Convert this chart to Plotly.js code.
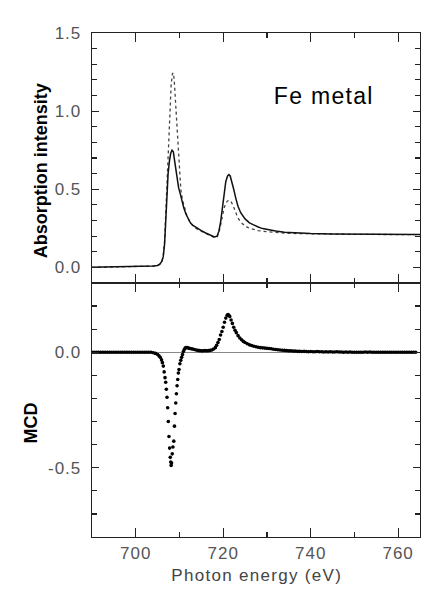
<!DOCTYPE html>
<html>
<head>
<meta charset="utf-8">
<script src="https://cdn.plot.ly/plotly-3.0.1.min.js"></script>
<style>
html,body{margin:0;padding:0;background:#fff;}
#chart{width:436px;height:597px;}
.xtick text, .ytick text, .x2tick text, .y2tick text {letter-spacing:1px;}
</style>
</head>
<body>
<div id="chart"></div>
<script>
// ---------- data ----------
// Top panel: absorption (solid = average, dotted = one helicity)
var absEnergy = [690,695,700,703,704,705,705.5,706,706.3,706.6,706.9,707.1,707.4,707.7,708.0,708.3,708.6,708.9,709.2,709.5,709.8,710.1,710.5,711.0,711.5,712.0,712.5,713.0,714,715,716,717,718,718.6,719.0,719.4,719.8,720.2,720.6,721.0,721.3,721.6,722.0,722.4,722.9,723.4,724,725,726,727,728,729,730,732,734,736,738,740,745,750,753,754,755,757,760,765];
var absSolid  = [0.000,0.002,0.004,0.006,0.008,0.012,0.02,0.04,0.07,0.15,0.32,0.48,0.60,0.68,0.73,0.75,0.74,0.68,0.61,0.55,0.51,0.48,0.43,0.38,0.34,0.31,0.285,0.27,0.25,0.235,0.22,0.205,0.195,0.20,0.23,0.29,0.38,0.48,0.55,0.585,0.594,0.585,0.55,0.50,0.44,0.39,0.35,0.31,0.285,0.27,0.258,0.248,0.242,0.232,0.225,0.221,0.218,0.216,0.213,0.212,0.211,0.215,0.212,0.211,0.21,0.21];

var dotEnergy = [690,695,700,703,704,705,705.5,706,706.3,706.6,706.9,707.2,707.5,707.8,708.1,708.4,708.6,708.8,709.1,709.4,709.7,710.0,710.3,710.7,711.2,711.7,712.3,713,714,715,716,717,718,718.6,719.0,719.4,719.8,720.2,720.6,721.0,721.4,721.8,722.2,722.7,723.3,724,725,726,727,728,730,732,734,736,740,745,750,760,765];
var absDotted = [0.000,0.002,0.004,0.006,0.008,0.012,0.02,0.04,0.08,0.17,0.36,0.58,0.80,1.00,1.17,1.24,1.245,1.20,1.05,0.88,0.74,0.60,0.50,0.43,0.37,0.33,0.295,0.27,0.245,0.23,0.215,0.20,0.19,0.195,0.22,0.27,0.33,0.38,0.41,0.425,0.43,0.42,0.40,0.36,0.32,0.29,0.265,0.25,0.24,0.235,0.228,0.222,0.219,0.217,0.214,0.212,0.211,0.21,0.21];

// Bottom panel: MCD
var mcdEnergy = [690,690.5,691,691.5,692,692.5,693,693.5,694,694.5,695,695.5,696,696.5,697,697.5,698,698.5,699,699.5,700,700.5,701,701.5,702,702.5,703,703.5,704,704.5,705,705.3,705.6,705.9,706.1,706.3,706.5,706.7,706.85,707.0,707.15,707.3,707.45,707.6,707.75,707.9,708.0,708.1,708.2,708.35,708.5,708.7,708.85,709.0,709.15,709.3,709.45,709.6,709.75,709.9,710.1,710.3,710.5,710.7,710.9,711.1,711.3,711.5,711.8,712.1,712.4,712.7,713.0,713.4,713.8,714.2,714.6,715,715.4,715.8,716.2,716.6,717,717.4,717.8,718.2,718.5,718.8,719.1,719.4,719.7,720.0,720.3,720.6,720.9,721.1,721.3,721.5,721.8,722.1,722.4,722.7,723.0,723.4,723.8,724.2,724.6,725.0,725.5,726,726.5,727,727.5,728,728.5,729,729.5,730,730.5,731,731.5,732,732.5,733,733.5,734,734.5,735,735.5,736,736.5,737,737.5,738,738.5,739,739.5,740,740.5,741,741.5,742,742.5,743,743.5,744,744.5,745,745.5,746,746.5,747,747.5,748,748.5,749,749.5,750,750.5,751,751.5,752,752.5,753,753.5,754,754.5,755,755.5,756,756.5,757,757.5,758,758.5,759,759.5,760,760.5,761,761.5,762,762.5,763,763.5,764,764.5,765];
var mcdValue  = [0,0,0,0,0,0,0,0,0,0,0,0,0,0,0,0,0,0,0,0,0,0,0,0,0,0,0,0,-0.002,-0.005,-0.01,-0.015,-0.022,-0.033,-0.045,-0.06,-0.085,-0.11,-0.13,-0.16,-0.195,-0.24,-0.30,-0.365,-0.415,-0.455,-0.475,-0.49,-0.48,-0.44,-0.41,-0.385,-0.32,-0.265,-0.22,-0.18,-0.145,-0.118,-0.09,-0.075,-0.05,-0.035,-0.022,-0.01,0.003,0.012,0.018,0.02,0.02,0.018,0.016,0.015,0.014,0.012,0.01,0.008,0.007,0.006,0.006,0.007,0.006,0.007,0.008,0.01,0.014,0.02,0.03,0.042,0.055,0.075,0.09,0.108,0.13,0.148,0.16,0.163,0.16,0.155,0.14,0.125,0.108,0.095,0.085,0.072,0.062,0.054,0.047,0.042,0.037,0.032,0.029,0.026,0.024,0.022,0.02,0.019,0.018,0.017,0.016,0.015,0.013,0.012,0.011,0.01,0.009,0.008,0.007,0.006,0.006,0.005,0.005,0.004,0.004,0.003,0.004,0.003,0.002,0.003,0.002,0.002,0.003,0.002,0.002,0.001,0.002,0.001,0.002,0.001,0.001,0.002,0.001,0.001,0,0.001,0,0.001,0,0,0,0,0,0,0.001,0,0.001,0,0,0,0,0,0,0,0,0,0,0,0,0,0,0,0,0,0,0,0,0];

var xTickVals = [700,720,740,760];
var xTickText = ['700','720','740','760'];
var topTickVals = [0,0.5,1.0,1.5];
var topTickText = ['0.0','0.5','1.0','1.5'];
var botTickVals = [0,-0.5];
var botTickText = ['0.0','-0.5'];

// ---------- chart ----------
var axisColor = '#222';
var tickFont = {family:'Liberation Sans, Arial, sans-serif', size:17, color:'#555'};

var traces = [
  {x:dotEnergy, y:absDotted, xaxis:'x2', yaxis:'y2', mode:'lines',
   line:{color:'#444', width:1.3, dash:'dot'}, hoverinfo:'skip'},
  {x:absEnergy, y:absSolid, xaxis:'x2', yaxis:'y2', mode:'lines',
   line:{color:'#111', width:1.5}, hoverinfo:'skip'},
  {x:mcdEnergy, y:mcdValue, xaxis:'x', yaxis:'y', mode:'markers',
   marker:{color:'#000', size:3.6, symbol:'circle'}, hoverinfo:'skip'}
];

var split = 0.504;
var commonX = {
  range:[690,765], tickmode:'array', tickvals:xTickVals, ticktext:xTickText,
  ticks:'inside', ticklen:9, tickwidth:1.2, tickcolor:axisColor,
  minor:{tickmode:'array', tickvals:[690,710,730,750], ticks:'inside', ticklen:5, tickwidth:1.2, tickcolor:axisColor},
  showline:true, linecolor:axisColor, linewidth:1.3, mirror:'ticks',
  showgrid:false, zeroline:false, tickfont:tickFont
};

var layout = {
  width:436, height:597,
  margin:{l:92, r:16, t:33, b:60},
  paper_bgcolor:'#fff', plot_bgcolor:'#fff',
  showlegend:false,
  xaxis: Object.assign({}, commonX, {anchor:'y', domain:[0,1]}),
  xaxis2: Object.assign({}, commonX, {anchor:'y2', domain:[0,1], matches:'x', showticklabels:false}),
  yaxis:{
    domain:[0,split], range:[-0.8,0.3], anchor:'x',
    tickmode:'array', tickvals:botTickVals, ticktext:botTickText,
    ticks:'inside', ticklen:7, tickwidth:1.2, tickcolor:axisColor,
    minor:{tickmode:'linear', tick0:0, dtick:0.1, ticks:'inside', ticklen:5, tickwidth:1.2, tickcolor:axisColor},
    showline:true, linecolor:axisColor, linewidth:1.3, mirror:'ticks',
    showgrid:false, zeroline:true, zerolinecolor:'#888', zerolinewidth:1,
    tickfont:tickFont, ticklabelstandoff:6
  },
  yaxis2:{
    domain:[split,1], range:[-0.1,1.5], anchor:'x2',
    tickmode:'array', tickvals:topTickVals, ticktext:topTickText,
    ticks:'inside', ticklen:7, tickwidth:1.2, tickcolor:axisColor,
    minor:{tickmode:'linear', tick0:0, dtick:0.1, ticks:'inside', ticklen:5, tickwidth:1.2, tickcolor:axisColor},
    showline:true, linecolor:axisColor, linewidth:1.3, mirror:'ticks',
    showgrid:false, zeroline:false,
    tickfont:tickFont, ticklabelstandoff:6
  },
  annotations:[
    {text:'Absorption intensity', xref:'paper', yref:'paper', x:-0.155, y:0.726,
     xanchor:'center', yanchor:'middle', textangle:-90, showarrow:false,
     font:{family:'Liberation Sans, Arial, sans-serif', size:18, color:'#000', weight:'bold'}},
    {text:'MCD', xref:'paper', yref:'paper', x:-0.186, y:0.227,
     xanchor:'center', yanchor:'middle', textangle:-90, showarrow:false,
     font:{family:'Liberation Sans, Arial, sans-serif', size:18, color:'#000', weight:'bold'}},
    {text:'Photon energy (eV)', xref:'paper', yref:'paper', x:0.5, y:-0.0754,
     xanchor:'center', yanchor:'middle', showarrow:false,
     font:{family:'Liberation Sans, Arial, sans-serif', size:17, color:'#444'}},
    {text:'Fe metal', xref:'paper', yref:'paper', x:0.706, y:0.875,
     xanchor:'center', yanchor:'middle', showarrow:false,
     font:{family:'Liberation Sans, Arial, sans-serif', size:23, color:'#000'}}
  ]
};

Plotly.newPlot('chart', traces, layout, {staticPlot:true, displayModeBar:false}).then(function(){
  var anns = document.querySelectorAll('.annotation-text');
  anns.forEach(function(t){
    if (t.textContent === 'Photon energy (eV)' || t.textContent === 'Fe metal') {
      t.style.letterSpacing = '1.3px';
    }
  });
});
</script>
</body>
</html>
